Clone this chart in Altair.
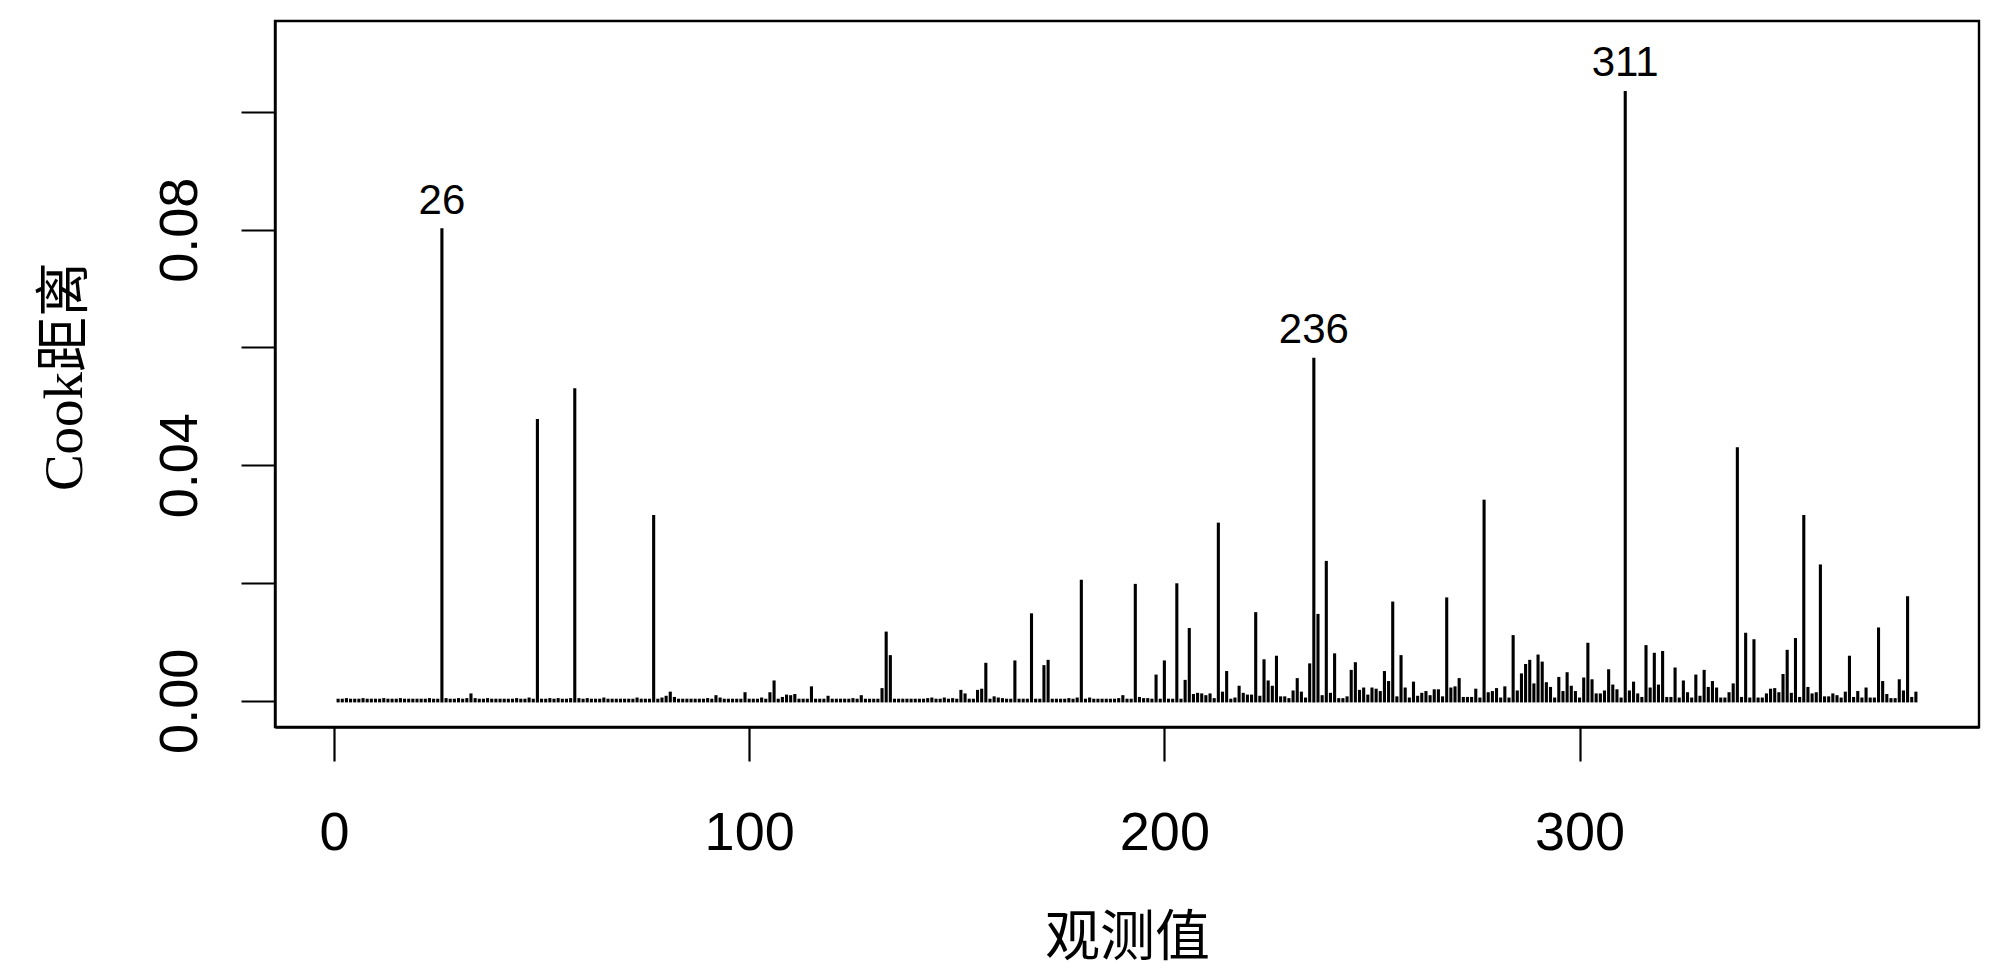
import altair as alt
import pandas as pd

cook = [
    0.0001, 0.0001, 0.0002, 0.0001, 0.0001, 0.0001, 0.0002, 0.0001, 0.0001, 0.0001,
    0.0001, 0.0002, 0.0001, 0.0001, 0.0001, 0.0002, 0.0001, 0.0001, 0.0001, 0.0001,
    0.0001, 0.0001, 0.0002, 0.0001, 0.0001, 0.0800, 0.0002, 0.0001, 0.0001, 0.0002,
    0.0001, 0.0002, 0.0010, 0.0002, 0.0001, 0.0001, 0.0002, 0.0001, 0.0001, 0.0001,
    0.0001, 0.0001, 0.0001, 0.0002, 0.0001, 0.0001, 0.0003, 0.0001, 0.0476, 0.0001,
    0.0001, 0.0002, 0.0001, 0.0002, 0.0001, 0.0001, 0.0002, 0.0528, 0.0002, 0.0001,
    0.0002, 0.0001, 0.0001, 0.0001, 0.0003, 0.0001, 0.0001, 0.0001, 0.0001, 0.0001,
    0.0001, 0.0001, 0.0003, 0.0001, 0.0001, 0.0001, 0.0313, 0.0001, 0.0003, 0.0006,
    0.0013, 0.0004, 0.0001, 0.0001, 0.0001, 0.0001, 0.0001, 0.0001, 0.0001, 0.0002,
    0.0001, 0.0007, 0.0003, 0.0001, 0.0001, 0.0001, 0.0001, 0.0001, 0.0012, 0.0001,
    0.0001, 0.0001, 0.0003, 0.0001, 0.0012, 0.0032, 0.0001, 0.0004, 0.0008, 0.0007,
    0.0009, 0.0001, 0.0001, 0.0001, 0.0022, 0.0001, 0.0001, 0.0001, 0.0006, 0.0001,
    0.0001, 0.0001, 0.0001, 0.0001, 0.0002, 0.0001, 0.0007, 0.0001, 0.0001, 0.0001,
    0.0001, 0.0019, 0.0115, 0.0075, 0.0001, 0.0001, 0.0001, 0.0001, 0.0001, 0.0001,
    0.0001, 0.0001, 0.0002, 0.0003, 0.0001, 0.0001, 0.0003, 0.0001, 0.0002, 0.0001,
    0.0016, 0.0010, 0.0001, 0.0001, 0.0016, 0.0018, 0.0062, 0.0001, 0.0005, 0.0003,
    0.0002, 0.0001, 0.0001, 0.0066, 0.0001, 0.0001, 0.0001, 0.0146, 0.0001, 0.0001,
    0.0058, 0.0067, 0.0001, 0.0001, 0.0001, 0.0001, 0.0002, 0.0001, 0.0003, 0.0203,
    0.0001, 0.0003, 0.0001, 0.0001, 0.0001, 0.0001, 0.0001, 0.0001, 0.0002, 0.0007,
    0.0001, 0.0001, 0.0196, 0.0004, 0.0002, 0.0002, 0.0001, 0.0042, 0.0001, 0.0066,
    0.0001, 0.0001, 0.0197, 0.0001, 0.0033, 0.0121, 0.0009, 0.0011, 0.0010, 0.0007,
    0.0010, 0.0002, 0.0300, 0.0013, 0.0048, 0.0001, 0.0003, 0.0023, 0.0011, 0.0008,
    0.0008, 0.0148, 0.0006, 0.0068, 0.0032, 0.0023, 0.0074, 0.0005, 0.0005, 0.0002,
    0.0015, 0.0036, 0.0013, 0.0003, 0.0061, 0.0580, 0.0145, 0.0007, 0.0235, 0.0011,
    0.0078, 0.0002, 0.0002, 0.0005, 0.0050, 0.0063, 0.0016, 0.0020, 0.0008, 0.0020,
    0.0018, 0.0014, 0.0048, 0.0031, 0.0166, 0.0005, 0.0075, 0.0020, 0.0003, 0.0030,
    0.0006, 0.0011, 0.0014, 0.0007, 0.0017, 0.0017, 0.0005, 0.0173, 0.0020, 0.0022,
    0.0036, 0.0004, 0.0004, 0.0004, 0.0018, 0.0003, 0.0339, 0.0012, 0.0014, 0.0019,
    0.0003, 0.0022, 0.0003, 0.0109, 0.0015, 0.0044, 0.0060, 0.0067, 0.0027, 0.0076,
    0.0064, 0.0029, 0.0021, 0.0003, 0.0038, 0.0014, 0.0046, 0.0023, 0.0014, 0.0003,
    0.0037, 0.0096, 0.0034, 0.0010, 0.0010, 0.0015, 0.0051, 0.0025, 0.0017, 0.0003,
    0.1033, 0.0015, 0.0030, 0.0010, 0.0004, 0.0092, 0.0020, 0.0079, 0.0025, 0.0082,
    0.0004, 0.0004, 0.0054, 0.0003, 0.0032, 0.0012, 0.0003, 0.0042, 0.0006, 0.0050,
    0.0021, 0.0031, 0.0020, 0.0003, 0.0003, 0.0012, 0.0027, 0.0428, 0.0004, 0.0113,
    0.0003, 0.0102, 0.0003, 0.0003, 0.0010, 0.0018, 0.0019, 0.0012, 0.0043, 0.0084,
    0.0011, 0.0104, 0.0004, 0.0313, 0.0021, 0.0010, 0.0012, 0.0229, 0.0005, 0.0005,
    0.0010, 0.0007, 0.0003, 0.0013, 0.0074, 0.0004, 0.0014, 0.0003, 0.0020, 0.0003,
    0.0003, 0.0122, 0.0031, 0.0009, 0.0002, 0.0002, 0.0034, 0.0015, 0.0175, 0.0004,
    0.0013,
]
obs = list(range(1, len(cook) + 1))

labelled_obs = [26, 236, 311]

x_ticks = [0, 100, 200, 300]
y_ticks = [0.0, 0.02, 0.04, 0.06, 0.08, 0.10]

df = pd.DataFrame({"obs": obs, "cook": cook})
lab_df = pd.DataFrame({
    "obs": labelled_obs,
    "cook": [cook[i - 1] for i in labelled_obs],
    "lab": [str(i) for i in labelled_obs],
})

xscale = alt.Scale(domain=[-14.2, 396.2], nice=False, zero=False)
yscale = alt.Scale(domain=[-0.00444, 0.11544], nice=False, zero=False)

title_font = "Liberation Serif, Noto Sans CJK SC"

xaxis = alt.Axis(
    values=x_ticks, format="d", title="观测值", grid=False,
    labelPadding=45, labelBaseline="top",
    titleFont=title_font, titleFontSize=55, titleFontWeight="normal",
    titleBaseline="middle", titleAlign="center", titleX=852, titleY=210,
)
yaxis = alt.Axis(
    values=y_ticks, title="Cook距离", grid=False,
    labelExpr="round(datum.value*100) % 4 == 0 ? format(datum.value, '.2f') : ''",
    labelAngle=270, labelAlign="center", labelBaseline="alphabetic",
    labelPadding=45, labelOverlap=False, labelFlush=False,
    titleFont=title_font, titleFontSize=55, titleFontWeight="normal",
    titleAngle=270, titleBaseline="middle", titleAlign="center",
    titleX=-211, titleY=355,
)

bars = alt.Chart(df).mark_rule(color="black", strokeWidth=3.1, strokeCap="square").encode(
    x=alt.X("obs:Q", scale=xscale, axis=xaxis),
    y=alt.Y("cook:Q", scale=yscale, axis=yaxis),
    y2=alt.datum(0),
)

labels = alt.Chart(lab_df).mark_text(
    font="Liberation Sans", fontSize=42, color="black",
    align="center", baseline="alphabetic", dy=-16,
).encode(
    x=alt.X("obs:Q", scale=xscale),
    y=alt.Y("cook:Q", scale=yscale),
    text="lab:N",
)

chart = alt.layer(bars, labels).properties(
    width=1704, height=706,
    autosize=alt.AutoSizeParams(type="none"),
    padding={"left": 267, "top": 13, "right": 20, "bottom": 240},
    background="white",
).configure_view(
    stroke="black", strokeWidth=2.4,
).configure_axis(
    labelFont="Liberation Sans", labelFontSize=54, labelColor="black",
    tickSize=34, tickWidth=2.2, tickColor="black",
    domainColor="black", domainWidth=2.4, titleColor="black",
)

chart.save("out.html", embed_options={"renderer": "svg", "actions": False})
